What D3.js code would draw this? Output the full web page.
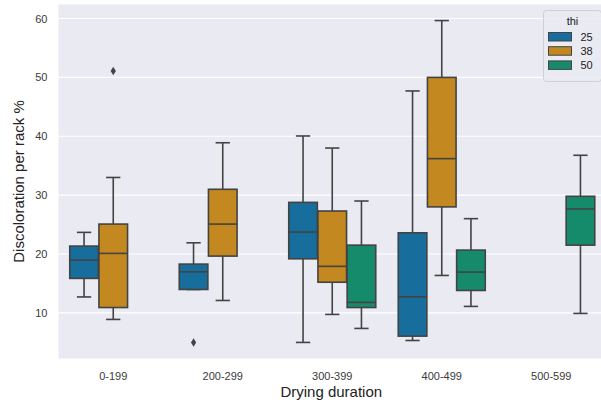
<!DOCTYPE html>
<html>
<head>
<meta charset="utf-8">
<script src="https://cdn.jsdelivr.net/npm/d3@7"></script>
<style>
  html, body { margin: 0; padding: 0; background: #ffffff; }
  svg { display: block; font-family: "Liberation Sans", Arial, sans-serif; }
</style>
</head>
<body>
<svg id="chart" width="601" height="403"></svg>
<script>
// Drying-duration bins on the x axis and the "thi" hue levels
const categories = ["0-199", "200-299", "300-399", "400-499", "500-599"];
const hueLevels = ["25", "38", "50"];
const hueColors = ["#176d9c", "#c3881f", "#168b6b"];
const yTicks = [10, 20, 30, 40, 50, 60];

// Box statistics per category and hue: [lower whisker, Q1, median, Q3, upper whisker]
const stats25 = [
  [12.7, 15.85, 18.96, 21.34, 23.67],
  [13.97, 13.97, 16.97, 18.28, 21.9],
  [4.97, 19.18, 23.72, 28.77, 40.05],
  [5.3, 6.04, 12.72, 23.6, 47.7],
  null
];
const stats38 = [
  [8.88, 10.9, 20.1, 25.08, 33.0],
  [12.1, 19.64, 25.08, 30.99, 38.9],
  [9.73, 15.2, 17.9, 27.3, 38.0],
  [16.35, 28.0, 36.2, 50.0, 59.66],
  null
];
const stats50 = [
  null,
  null,
  [7.35, 10.9, 11.77, 21.5, 29.0],
  [11.09, 13.8, 16.92, 20.66, 26.0],
  [9.9, 21.5, 27.64, 29.8, 36.77]
];
// Outlying points: [category, hue, value]
const outliers = [
  ["0-199", "38", 51.1],
  ["200-299", "25", 4.97]
];

const statsByHue = [stats25, stats38, stats50];

const svg = d3.select("#chart");
const plot = { left: 58.5, top: 4.5, bottom: 358.5, right: 606 };

const x = d3.scaleBand().domain(categories).range([plot.left, plot.right]).padding(0);
const hueBand = d3.scaleBand().domain(hueLevels)
  .range([x.bandwidth() * 0.1, x.bandwidth() * 0.9]).padding(0);
const y = d3.scaleLinear().domain([2.24, 62.39]).range([plot.bottom, plot.top]);

const lineColor = "#434343";

// Background panel
svg.append("rect")
  .attr("x", plot.left).attr("y", plot.top)
  .attr("width", plot.right - plot.left).attr("height", plot.bottom - plot.top)
  .attr("fill", "#eaeaf2");

// Horizontal grid lines and y tick labels
const yAxis = d3.axisLeft(y).tickValues(yTicks).tickSize(0).tickPadding(11);
const yAxisG = svg.append("g").attr("transform", `translate(${plot.left},0)`).call(yAxis);
yAxisG.select(".domain").remove();
yAxisG.selectAll("text").attr("font-size", 11).attr("fill", "#3a3a3a")
  .attr("font-family", "Liberation Sans, Arial, sans-serif");

svg.append("g").selectAll("line").data(yTicks).join("line")
  .attr("x1", plot.left).attr("x2", plot.right)
  .attr("y1", d => y(d)).attr("y2", d => y(d))
  .attr("stroke", "#ffffff").attr("stroke-width", 1.1);

// x axis tick labels
const xAxis = d3.axisBottom(x).tickSize(0).tickPadding(14);
const xAxisG = svg.append("g").attr("transform", `translate(0,${plot.bottom})`).call(xAxis);
xAxisG.select(".domain").remove();
xAxisG.selectAll("text").attr("font-size", 11).attr("fill", "#3a3a3a")
  .attr("font-family", "Liberation Sans, Arial, sans-serif");

// Boxes
const boxW = hueBand.bandwidth() * 0.98;
const boxes = [];
categories.forEach((c, ci) => {
  hueLevels.forEach((h, hi) => {
    const s = statsByHue[hi][ci];
    if (s) boxes.push({ cat: c, hue: h, hi, s });
  });
});

const g = svg.append("g");
boxes.forEach(b => {
  const cx = x(b.cat) + hueBand(b.hue) + hueBand.bandwidth() / 2;
  const [lo, q1, med, q3, hi] = b.s;
  const capW = boxW / 2;
  const bg = g.append("g");
  // whiskers
  bg.append("line").attr("x1", cx).attr("x2", cx).attr("y1", y(q3)).attr("y2", y(hi))
    .attr("stroke", lineColor).attr("stroke-width", 1.6);
  bg.append("line").attr("x1", cx).attr("x2", cx).attr("y1", y(q1)).attr("y2", y(lo))
    .attr("stroke", lineColor).attr("stroke-width", 1.6);
  // caps
  [lo, hi].forEach(v => {
    bg.append("line").attr("x1", cx - capW / 2).attr("x2", cx + capW / 2)
      .attr("y1", y(v)).attr("y2", y(v))
      .attr("stroke", lineColor).attr("stroke-width", 1.6);
  });
  // box
  bg.append("rect")
    .attr("x", cx - boxW / 2).attr("y", y(q3))
    .attr("width", boxW).attr("height", Math.max(0, y(q1) - y(q3)))
    .attr("fill", hueColors[b.hi]).attr("stroke", lineColor).attr("stroke-width", 1.6);
  // median
  bg.append("line").attr("x1", cx - boxW / 2).attr("x2", cx + boxW / 2)
    .attr("y1", y(med)).attr("y2", y(med))
    .attr("stroke", lineColor).attr("stroke-width", 1.6);
});

// Outlier diamonds
const diamond = "M0,-4.2L2.6,0L0,4.2L-2.6,0Z";
g.selectAll("path.outlier").data(outliers).join("path")
  .attr("class", "outlier")
  .attr("d", diamond)
  .attr("transform", d => {
    const cx = x(d[0]) + hueBand(d[1]) + hueBand.bandwidth() / 2;
    return `translate(${cx},${y(d[2])})`;
  })
  .attr("fill", lineColor);

// Axis titles
svg.append("text")
  .attr("x", (plot.left + plot.right) / 2 - 1).attr("y", 397)
  .attr("text-anchor", "middle").attr("font-size", 15).attr("fill", "#222")
  .text("Drying duration");

svg.append("text")
  .attr("transform", `translate(24,${(plot.top + plot.bottom) / 2}) rotate(-90)`)
  .attr("text-anchor", "middle").attr("font-size", 15).attr("fill", "#222")
  .text("Discoloration per rack %");

// Legend
const leg = svg.append("g").attr("transform", "translate(543.5,10.5)");
leg.append("rect").attr("width", 58).attr("height", 71).attr("rx", 3)
  .attr("fill", "#eaeaf2").attr("fill-opacity", 0.85)
  .attr("stroke", "#d0d0d0").attr("stroke-width", 1);
leg.append("text").attr("x", 29).attr("y", 14).attr("text-anchor", "middle")
  .attr("font-size", 11).attr("fill", "#222").text("thi");
hueLevels.forEach((h, i) => {
  const yy = 22 + i * 14.2;
  leg.append("rect").attr("x", 5).attr("y", yy).attr("width", 23).attr("height", 8.5)
    .attr("fill", hueColors[i]).attr("stroke", lineColor).attr("stroke-width", 1);
  leg.append("text").attr("x", 37).attr("y", yy + 8.5)
    .attr("font-size", 11).attr("fill", "#222").text(h);
});
</script>
</body>
</html>
